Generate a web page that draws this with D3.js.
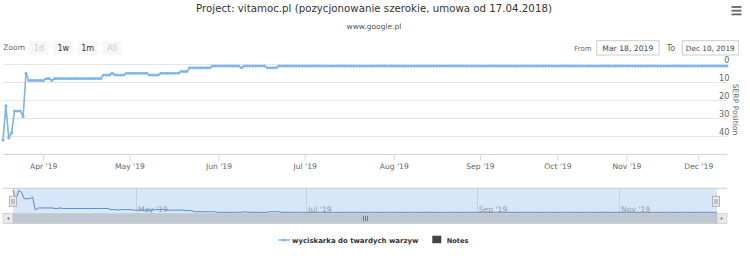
<!DOCTYPE html>
<html><head><meta charset="utf-8">
<script src="https://cdn.jsdelivr.net/npm/d3@7"></script>
<style>
html,body{margin:0;padding:0;background:#fff;}
svg{display:block;font-family:"DejaVu Sans",sans-serif;}
</style></head>
<body>
<svg id="c" width="750" height="256"></svg>
<script>
// ---------- data ----------
const titleText = "Project: vitamoc.pl (pozycjonowanie szerokie, umowa od 17.04.2018)";
const subtitleText = "www.google.pl";
const seriesName = "wyciskarka do twardych warzyw";
const notesName = "Notes";
const startDate = "2019-03-18";
const endDate = "2019-12-11";
const missingDates = ["2019-08-17","2019-09-07","2019-09-14","2019-09-22",
  "2019-10-05","2019-10-06","2019-10-12","2019-10-13","2019-10-19","2019-10-20","2019-10-27",
  "2019-11-02","2019-11-03","2019-11-09","2019-11-16","2019-11-23"];
const positions = [
  42,23,41,38,26,26,26,29,5,9,9,9,9,9,9,8,8,9,8,8,
  8,8,8,8,8,8,8,8,8,8,8,8,8,8,8,6,6,6,5,6,
  6,6,6,5,5,5,5,5,5,5,5,6,6,6,6,5,5,5,5,5,
  5,5,4,4,4,2,2,2,2,2,2,2,2,1,1,1,1,1,1,1,
  1,1,1,2,1,1,1,1,1,1,1,1,2,2,2,2,1,1,1,1,
  1,1,1,1,1,1,1,1,1,1,1,1,1,1,1,1,1,1,1,1,
  1,1,1,1,1,1,1,1,1,1,1,1,1,1,1,1,1,1,1,1,
  1,1,1,1,1,1,1,1,1,1,1,1,1,1,1,1,1,1,1,1,
  1,1,1,1,1,1,1,1,1,1,1,1,1,1,1,1,1,1,1,1,
  1,1,1,1,1,1,1,1,1,1,1,1,1,1,1,1,1,1,1,1,
  1,1,1,1,1,1,1,1,1,1,1,1,1,1,1,1,1,1,1,1,
  1,1,1,1,1,1,1,1,1,1,1,1,1,1,1,1,1,1,1,1,
  1,1,1,1,1,1,1,1,1,1,1,1,1
];
const yTicks = [0,10,20,30,40];
const zoomButtons = ["1d","1w","1m","All"];
const zoomEnabled = [false,true,true,false];
const fromLabel = "Mar 18, 2019";
const toLabel = "Dec 10, 2019";
const axisTitle = "SERP Position";

// ---------- helpers ----------
const parse = d3.timeParse("%Y-%m-%d");
const fmtISO = d3.timeFormat("%Y-%m-%d");
const missSet = new Set(missingDates);
const dates = d3.timeDay.range(parse(startDate), d3.timeDay.offset(parse(endDate),1))
  .filter(d => !missSet.has(fmtISO(d)));
const data = dates.map((d,i)=>({date:d, v:positions[i], i}));
const N = data.length;

const svg = d3.select("#c");
function fit(sel, w){
  const n = sel.node();
  const fs = parseFloat(sel.attr("font-size"));
  const len = n.getComputedTextLength();
  if(len>0) sel.attr("font-size", (fs*w/len).toFixed(2));
  return sel;
}

// ---------- title ----------
fit(svg.append("text").attr("x",374).attr("y",12).attr("text-anchor","middle")
  .attr("font-size",12).attr("fill","#333").text(titleText),356);
fit(svg.append("text").attr("x",374).attr("y",29).attr("text-anchor","middle")
  .attr("font-size",8).attr("fill","#555").text(subtitleText),55);

// hamburger
[7,10.7,14.4].forEach(y=>svg.append("line").attr("x1",731.5).attr("x2",741.5)
  .attr("y1",y).attr("y2",y).attr("stroke","#666").attr("stroke-width",1.8));

// ---------- range selector ----------
fit(svg.append("text").attr("x",3.3).attr("y",50).attr("font-size",8).attr("fill","#666").text("Zoom"),21.7);
const btnX = d3.scaleBand().domain(zoomButtons).range([29,122]).paddingInner(0.19);
zoomButtons.forEach((b,k)=>{
  svg.append("rect").attr("x",btnX(b)).attr("y",41).attr("width",btnX.bandwidth()).attr("height",14)
    .attr("fill","#f7f7f7");
  svg.append("text").attr("x",btnX(b)+btnX.bandwidth()/2).attr("y",51).attr("text-anchor","middle")
    .attr("font-size",8).attr("fill",zoomEnabled[k]?"#333":"#ccc").text(b);
});
fit(svg.append("text").attr("x",574.3).attr("y",50.5).attr("font-size",8).attr("fill","#666").text("From"),17.3);
svg.append("rect").attr("x",596.7).attr("y",40.7).attr("width",62.3).attr("height",14.3)
  .attr("fill","#fff").attr("stroke","#ccc");
fit(svg.append("text").attr("x",627.8).attr("y",50.5).attr("text-anchor","middle").attr("font-size",8)
  .attr("fill","#444").text(fromLabel),51);
fit(svg.append("text").attr("x",666.7).attr("y",50.5).attr("font-size",8).attr("fill","#666").text("To"),8.5);
svg.append("rect").attr("x",682.3).attr("y",40.7).attr("width",56).attr("height",14.3)
  .attr("fill","#fff").attr("stroke","#ccc");
fit(svg.append("text").attr("x",710.3).attr("y",50.5).attr("text-anchor","middle").attr("font-size",8)
  .attr("fill","#444").text(toLabel),49);

// ---------- main plot ----------
const x = d3.scaleLinear().domain([0,N-1]).range([3,727]);
const y = d3.scaleLinear().domain([0,50]).range([64.2,154.3]);

const monthStarts = data.filter((d,i)=> i>0 && d.date.getMonth()!==data[i-1].date.getMonth());
const fmtMonth = d3.timeFormat("%b '%y");

const g = svg.append("g");
yTicks.forEach(t=>{
  g.append("line").attr("x1",3).attr("x2",727).attr("y1",Math.round(y(t))+0.5).attr("y2",Math.round(y(t))+0.5)
    .attr("stroke","#e6e6e6").attr("stroke-width",1);
});
// y labels
yTicks.forEach(t=>{
  g.append("text").attr("x",729.5).attr("y",y(t)-1.3).attr("text-anchor","end")
    .attr("font-size",8.2).attr("fill","#666").text(t);
});
// axis title
svg.append("text").attr("transform","translate(733,109.5) rotate(90)").attr("text-anchor","middle")
  .attr("font-size",8).attr("fill","#666").text(axisTitle).call(s=>fit(s,51.7));

// x axis
const xAxisG = svg.append("g").attr("transform",`translate(0,${Math.round(y(50))+0.5})`);
xAxisG.append("line").attr("x1",3).attr("x2",727).attr("stroke","#ccd6eb");
const xAxis = d3.axisBottom(x).tickValues(monthStarts.map(d=>d.i))
  .tickFormat(i=>fmtMonth(data[i].date)).tickSize(6).tickPadding(3);
xAxisG.call(xAxis);
xAxisG.select(".domain").remove();
xAxisG.selectAll(".tick line").attr("stroke","#ccd6eb");
xAxisG.selectAll(".tick text").attr("font-size",7.6).attr("fill","#666")
  .attr("font-family","DejaVu Sans").attr("dy","0.71em");

// series
const line = d3.line().x(d=>x(d.i)).y(d=>y(d.v));
g.append("path").datum(data).attr("d",line).attr("fill","none")
  .attr("stroke","#7cb5ec").attr("stroke-width",1.6).attr("stroke-linejoin","round");
g.selectAll("circle.m").data(data).join("circle").attr("class","m")
  .attr("cx",d=>x(d.i)).attr("cy",d=>y(d.v)).attr("r",1.5).attr("fill","#7cb5ec");

// ---------- navigator ----------
const navTop = 188.3, navBot = 213.3;
const nx = d3.scaleLinear().domain([0,N-1]).range([13,717]);
const ny = d3.scaleLinear().domain([1,42]).range([212.3,190]);
const navTicks = monthStarts.filter(d=>d.date.getMonth()%2===0);
navTicks.forEach(d=>{
  svg.append("line").attr("x1",Math.round(nx(d.i))+0.5).attr("x2",Math.round(nx(d.i))+0.5)
    .attr("y1",navTop).attr("y2",navBot).attr("stroke","#e0e0e0");
});
svg.append("rect").attr("x",13).attr("y",navTop).attr("width",704).attr("height",navBot-navTop)
  .attr("fill","rgba(128,179,236,0.32)");
navTicks.forEach(d=>{
  svg.append("text").attr("x",nx(d.i)+2).attr("y",211.5).attr("font-size",7.6)
    .attr("fill","#999").text(fmtMonth(d.date));
});
svg.append("path").datum(data).attr("d",d3.line().x(d=>nx(d.i)).y(d=>ny(d.v)))
  .attr("fill","none").attr("stroke","#5b86c5").attr("stroke-width",1);
svg.append("line").attr("x1",3).attr("x2",727).attr("y1",navTop).attr("y2",navTop)
  .attr("stroke","#ccc");
// handles
[13,716].forEach(hx=>{
  svg.append("rect").attr("x",hx-3.5).attr("y",196.3).attr("width",7).attr("height",10)
    .attr("fill","#ebe7e8").attr("stroke","#b2b1b6").attr("stroke-width",1);
  [hx-1,hx+1].forEach(lx=>svg.append("line").attr("x1",lx).attr("x2",lx).attr("y1",199).attr("y2",204)
    .attr("stroke","#888").attr("stroke-width",0.8));
});
// scrollbar
svg.append("rect").attr("x",13).attr("y",213.5).attr("width",704).attr("height",10)
  .attr("fill","#bfc8d1").attr("stroke","#bbb").attr("stroke-width",0.5);
[3,717].forEach((bx,k)=>{
  svg.append("rect").attr("x",bx).attr("y",213.5).attr("width",10).attr("height",10)
    .attr("fill","#ebe7e8").attr("stroke","#bbb").attr("stroke-width",0.5);
  const cx = bx+5, cy = 218.5;
  const p = k===0 ? `M${cx+1.2},${cy-1.6}L${cx-1},${cy}L${cx+1.2},${cy+1.6}Z`
                  : `M${cx-1.2},${cy-1.6}L${cx+1},${cy}L${cx-1.2},${cy+1.6}Z`;
  svg.append("path").attr("d",p).attr("fill","#666");
});
[-2,0,2].forEach(dx=>svg.append("line").attr("x1",365+dx+0.5).attr("x2",365+dx+0.5)
  .attr("y1",216).attr("y2",221).attr("stroke","#666").attr("stroke-width",0.8));

// ---------- legend ----------
svg.append("line").attr("x1",278.3).attr("x2",290).attr("y1",240).attr("y2",240)
  .attr("stroke","#7cb5ec").attr("stroke-width",1.6);
svg.append("circle").attr("cx",284.2).attr("cy",240).attr("r",1.6).attr("fill","#7cb5ec");
fit(svg.append("text").attr("x",292).attr("y",243).attr("font-size",8).attr("font-weight","bold")
  .attr("fill","#333").text(seriesName),126.7);
svg.append("rect").attr("x",432.3).attr("y",235.7).attr("width",9).attr("height",7.5).attr("fill","#434348");
fit(svg.append("text").attr("x",446.7).attr("y",243).attr("font-size",8).attr("font-weight","bold")
  .attr("fill","#333").text(notesName),21.7);
</script>
</body></html>
